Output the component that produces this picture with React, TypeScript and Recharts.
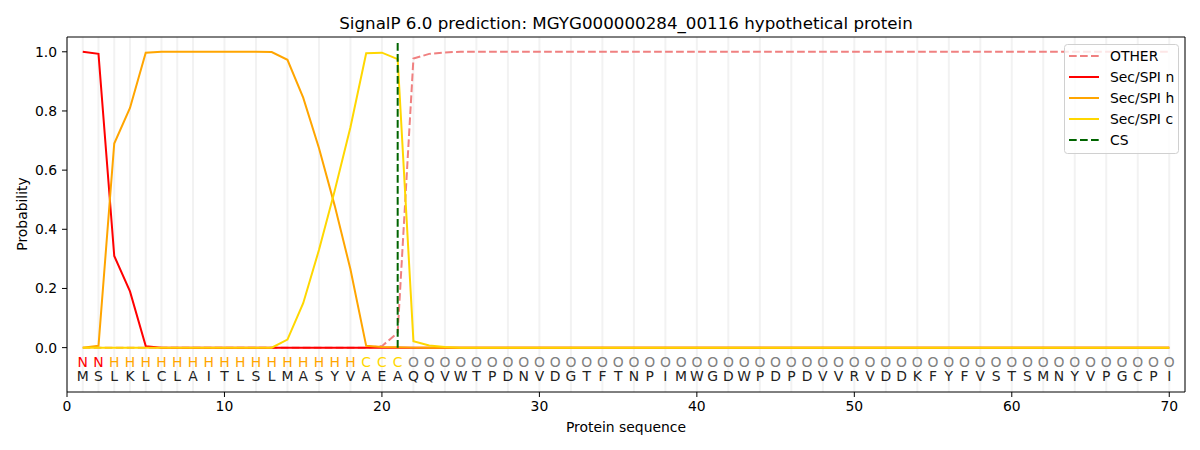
import { ComposedChart, Line, Scatter, XAxis, YAxis, CartesianGrid, ReferenceLine } from 'recharts';

const FONT = '"DejaVu Sans", sans-serif';

const residues = 'MSLKLCLAITLSLMASYVAEAQQVWTPDNVDGTFTNPIMWGDWPDPDVVRVDDKFYFVSTSMNYVPGCPI'.split('');
const regions = ('NN' + 'HHHHHHHHHHHHHHHH' + 'CCC' + 'OOOOOOOOOO' + 'OOOOOOOOOO' + 'OOOOOOOOOO' + 'OOOOOOOOOO' + 'OOOOOOOOO').split('');

const otherProb = [
  0, 0, 0, 0, 0, 0, 0, 0, 0, 0,
  0, 0, 0, 0, 0, 0, 0, 0, 0, 0.005,
  0.05, 0.977, 0.993, 0.998, 1, 1, 1, 1, 1, 1,
  1, 1, 1, 1, 1, 1, 1, 1, 1, 1,
  1, 1, 1, 1, 1, 1, 1, 1, 1, 1,
  1, 1, 1, 1, 1, 1, 1, 1, 1, 1,
  1, 1, 1, 1, 1, 1, 1, 1, 1, 1,
];
const nProb = [
  1, 0.993, 0.31, 0.19, 0.005, 0, 0, 0, 0, 0,
  0, 0, 0, 0, 0, 0, 0, 0, 0, 0,
  0, 0, 0, 0, 0, 0, 0, 0, 0, 0,
  0, 0, 0, 0, 0, 0, 0, 0, 0, 0,
  0, 0, 0, 0, 0, 0, 0, 0, 0, 0,
  0, 0, 0, 0, 0, 0, 0, 0, 0, 0,
  0, 0, 0, 0, 0, 0, 0, 0, 0, 0,
];
const hProb = [
  0, 0.006, 0.69, 0.81, 0.997, 1, 1, 1, 1, 1,
  1, 1, 0.999, 0.973, 0.845, 0.675, 0.48, 0.265, 0.006, 0.002,
  0.001, 0, 0, 0, 0, 0, 0, 0, 0, 0,
  0, 0, 0, 0, 0, 0, 0, 0, 0, 0,
  0, 0, 0, 0, 0, 0, 0, 0, 0, 0,
  0, 0, 0, 0, 0, 0, 0, 0, 0, 0,
  0, 0, 0, 0, 0, 0, 0, 0, 0, 0,
];
const cProb = [
  0, 0, 0, 0, 0, 0, 0, 0, 0, 0,
  0, 0, 0, 0.027, 0.15, 0.33, 0.53, 0.745, 0.995, 0.997,
  0.975, 0.022, 0.007, 0.002, 0, 0, 0, 0, 0, 0,
  0, 0, 0, 0, 0, 0, 0, 0, 0, 0,
  0, 0, 0, 0, 0, 0, 0, 0, 0, 0,
  0, 0, 0, 0, 0, 0, 0, 0, 0, 0,
  0, 0, 0, 0, 0, 0, 0, 0, 0, 0,
];
const csPos = 21;
const xDomain = [0, 71];
const yDomain = [-0.15, 1.05];
const xTicks = [0, 10, 20, 30, 40, 50, 60, 70];
const yTicks = [0, 0.2, 0.4, 0.6, 0.8, 1.0];

const regionColors: Record<string, string> = { N: '#ff0000', H: '#ffa500', C: '#ffd700', O: '#808080' };

const positions = residues.map((_, i) => i + 1);
const data = positions.map((pos, i) => ({
  pos,
  other: otherProb[i],
  n: nProb[i],
  h: hProb[i],
  c: cProb[i],
}));
const regionRow = positions.map((pos, i) => ({ pos, yv: -0.05, ch: regions[i] }));
const residueRow = positions.map((pos, i) => ({ pos, yv: -0.097, ch: residues[i] }));

const letter = (colorOf: (ch: string) => string) => (props: any) => (
  <text
    x={props.cx}
    y={props.cy}
    textAnchor="middle"
    dominantBaseline="central"
    fontSize={13.9}
    fontFamily={FONT}
    fill={colorOf(props.payload.ch)}
  >
    {props.payload.ch}
  </text>
);

const legendItems = [
  { name: 'OTHER', color: '#f08080', dash: '7.7 3.3' },
  { name: 'Sec/SPI n', color: '#ff0000', dash: undefined },
  { name: 'Sec/SPI h', color: '#ffa500', dash: undefined },
  { name: 'Sec/SPI c', color: '#ffd700', dash: undefined },
  { name: 'CS', color: '#006400', dash: '7.7 3.3' },
];

const tickStyle = { fontSize: 13.9, fontFamily: FONT, fill: '#000' };

export default function App() {
  return (
    <div style={{ position: 'absolute', left: 0, top: 0, width: 1200, height: 450, background: '#fff' }}>
      <ComposedChart
        width={1200}
        height={450}
        data={data}
        margin={{ top: 37, right: 15, left: 0, bottom: 0 }}
      >
        <XAxis xAxisId="grid" dataKey="pos" type="number" domain={xDomain} ticks={positions} hide />
        <CartesianGrid xAxisId="grid" horizontal={false} stroke="#f2f2f2" strokeWidth={2} />
        <XAxis
          dataKey="pos"
          type="number"
          domain={xDomain}
          ticks={xTicks}
          height={58}
          tickSize={5}
          tickMargin={4}
          stroke="#000"
          tick={tickStyle}
        />
        <YAxis
          type="number"
          domain={yDomain}
          ticks={yTicks}
          width={67}
          tickSize={5}
          tickMargin={5}
          stroke="#000"
          tick={tickStyle}
          tickFormatter={(v: number) => v.toFixed(1)}
        />
        <ReferenceLine y={yDomain[1]} stroke="#000" strokeWidth={1} />
        <ReferenceLine x={xDomain[1]} stroke="#000" strokeWidth={1} />
        <Line dataKey="other" stroke="#f08080" strokeWidth={2} strokeDasharray="7.7 3.3" dot={false} isAnimationActive={false} />
        <Line dataKey="n" stroke="#ff0000" strokeWidth={2} dot={false} isAnimationActive={false} />
        <Line dataKey="h" stroke="#ffa500" strokeWidth={2} dot={false} isAnimationActive={false} />
        <Line dataKey="c" stroke="#ffd700" strokeWidth={2} dot={false} isAnimationActive={false} />
        <ReferenceLine
          segment={[{ x: csPos, y: 0 }, { x: csPos, y: 1.035 }]}
          stroke="#006400"
          strokeWidth={2}
          strokeDasharray="7.7 3.3"
        />
        <Scatter data={regionRow} dataKey="yv" isAnimationActive={false} shape={letter((ch) => regionColors[ch])} />
        <Scatter data={residueRow} dataKey="yv" isAnimationActive={false} shape={letter(() => '#222')} />
      </ComposedChart>
      <svg width={1200} height={450} style={{ position: 'absolute', left: 0, top: 0, pointerEvents: 'none' }}>
        <text x={626} y={23} textAnchor="middle" dominantBaseline="central" fontSize={16.7} fontFamily={FONT} fill="#000">
          SignalP 6.0 prediction: MGYG000000284_00116 hypothetical protein
        </text>
        <text x={626} y={427} textAnchor="middle" dominantBaseline="central" fontSize={13.9} fontFamily={FONT} fill="#000">
          Protein sequence
        </text>
        <text
          x={22}
          y={214}
          textAnchor="middle"
          dominantBaseline="central"
          fontSize={13.9}
          fontFamily={FONT}
          fill="#000"
          transform="rotate(-90 22 214)"
        >
          Probability
        </text>
        <rect x={1064.5} y={44.5} width={114} height={109} rx={3} fill="#fff" fillOpacity={0.8} stroke="#d0d0d0" />
        {legendItems.map((it, i) => (
          <g key={it.name}>
            <line x1={1069} x2={1099} y1={56 + i * 21} y2={56 + i * 21} stroke={it.color} strokeWidth={2} strokeDasharray={it.dash} />
            <text x={1110} y={56 + i * 21} dominantBaseline="central" fontSize={13.9} fontFamily={FONT} fill="#000">
              {it.name}
            </text>
          </g>
        ))}
      </svg>
    </div>
  );
}
